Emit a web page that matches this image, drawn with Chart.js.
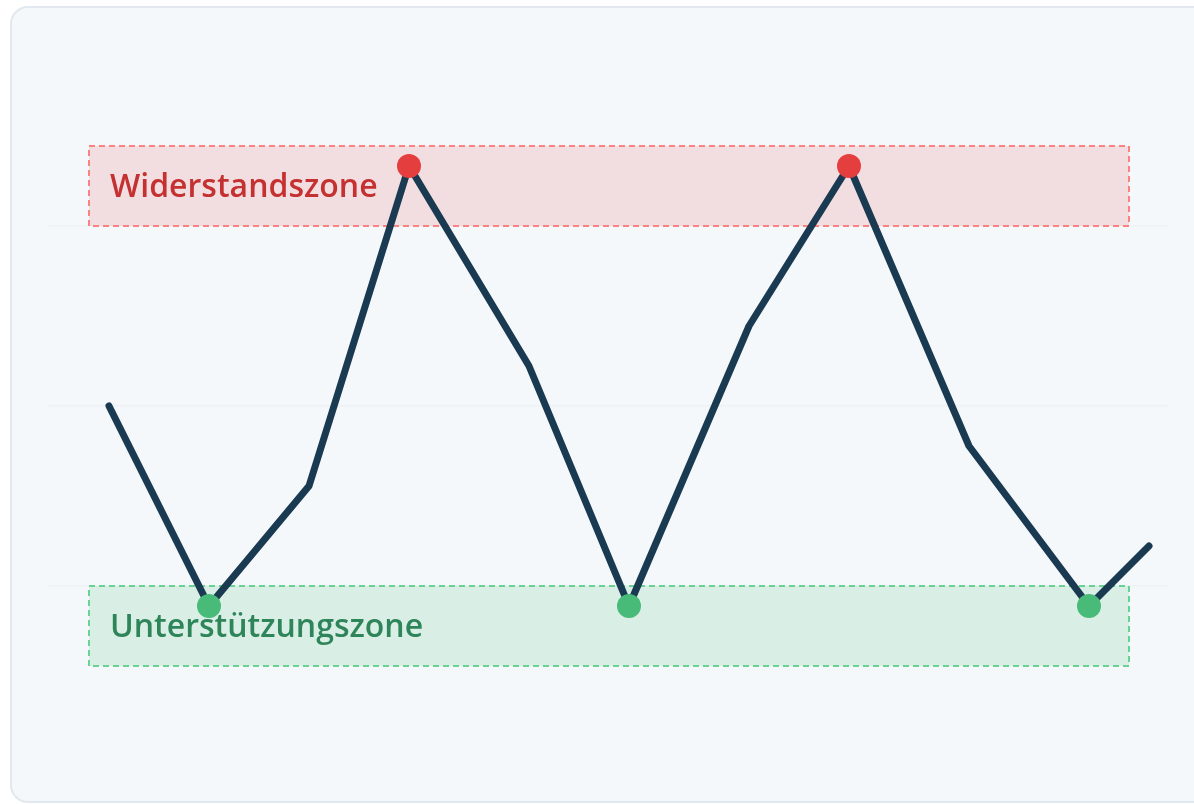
<!DOCTYPE html>
<html>
<head>
<meta charset="utf-8">
<script src="https://cdn.jsdelivr.net/npm/chart.js@4"></script>
<style>
    html, body { margin: 0; padding: 0; background: #ffffff; overflow: hidden; }
    .card {
        position: absolute;
        left: 10px;
        top: 6px;
        width: 1220px;
        height: 793px;
        background: #f5f8fb;
        border: 2px solid #e2e8f0;
        border-radius: 18px;
    }
    #wrap { position: absolute; left: 0; top: 0; width: 1194px; height: 804px; }
</style>
</head>
<body>
<div class="card"></div>
<div id="wrap"><canvas id="srChart"></canvas></div>
<script>
// price path (x = time step, y = price)
const timeSteps = [0, 5, 10, 15, 21, 26, 32, 37, 43, 49, 52];
const prices = [100, 80, 92, 124, 104, 80, 108, 124, 96, 80, 86];

// zones
const resistanceZone = [118, 126];
const supportZone = [74, 82];
const zoneFrom = -1;
const zoneTo = 51;
const resistanceLabel = 'Widerstandszone';
const supportLabel = 'Unterstützungszone';

const gridValues = [82, 100, 118];

const zonesPlugin = {
    id: 'zones',
    beforeDatasetsDraw(chart) {
        const ctx = chart.ctx;
        const x = chart.scales.x;
        const y = chart.scales.y;
        const zones = [
            { range: resistanceZone, label: resistanceLabel, fill: 'rgba(229, 62, 62, 0.14)', border: '#fc8181', text: '#c53030' },
            { range: supportZone, label: supportLabel, fill: 'rgba(72, 187, 120, 0.16)', border: '#68d391', text: '#2f855a' }
        ];
        zones.forEach(z => {
            const left = x.getPixelForValue(zoneFrom);
            const right = x.getPixelForValue(zoneTo);
            const top = y.getPixelForValue(z.range[1]);
            const bottom = y.getPixelForValue(z.range[0]);
            ctx.save();
            ctx.fillStyle = z.fill;
            ctx.fillRect(left, top, right - left, bottom - top);
            ctx.setLineDash([6, 4]);
            ctx.lineWidth = 2;
            ctx.strokeStyle = z.border;
            ctx.strokeRect(left, top, right - left, bottom - top);
            ctx.setLineDash([]);
            ctx.fillStyle = z.text;
            ctx.font = '600 32px "Open Sans"';
            ctx.textBaseline = 'middle';
            ctx.textAlign = 'left';
            ctx.fillText(z.label, left + 21, (top + bottom) / 2 + 2);
            ctx.restore();
        });
    }
};

function pointColor(ctx) {
    const v = ctx.raw && ctx.raw.y;
    if (v >= resistanceZone[0]) return '#e53e3e';
    if (v <= supportZone[1]) return '#48bb78';
    return 'rgba(0,0,0,0)';
}

function pointSize(ctx) {
    const v = ctx.raw && ctx.raw.y;
    return (v >= resistanceZone[0] || v <= supportZone[1]) ? 12 : 0;
}

const chart = new Chart(document.getElementById('srChart').getContext('2d'), {
    type: 'line',
    data: {
        datasets: [{
            data: timeSteps.map((t, i) => ({ x: t, y: prices[i] })),
            borderColor: '#1a3a52',
            borderWidth: 7,
            borderCapStyle: 'round',
            borderJoinStyle: 'round',
            tension: 0,
            fill: false,
            pointRadius: pointSize,
            pointHoverRadius: pointSize,
            pointBackgroundColor: pointColor,
            pointBorderWidth: 0,
            clip: false
        }]
    },
    options: {
        responsive: true,
        maintainAspectRatio: false,
        animation: false,
        layout: { padding: { left: 49, right: 25, top: 46, bottom: 38 } },
        plugins: {
            legend: { display: false },
            tooltip: { enabled: false }
        },
        scales: {
            x: {
                type: 'linear',
                min: -3,
                max: 53,
                display: true,
                grid: { display: false, drawTicks: false },
                border: { display: false },
                ticks: { display: false }
            },
            y: {
                type: 'linear',
                min: 64,
                max: 136,
                grid: { color: '#edf1f5', lineWidth: 1.5, drawTicks: false },
                border: { display: false },
                ticks: { display: false },
                afterBuildTicks(scale) {
                    scale.ticks = gridValues.map(v => ({ value: v }));
                }
            }
        }
    },
    plugins: [zonesPlugin]
});
</script>
</body>
</html>
